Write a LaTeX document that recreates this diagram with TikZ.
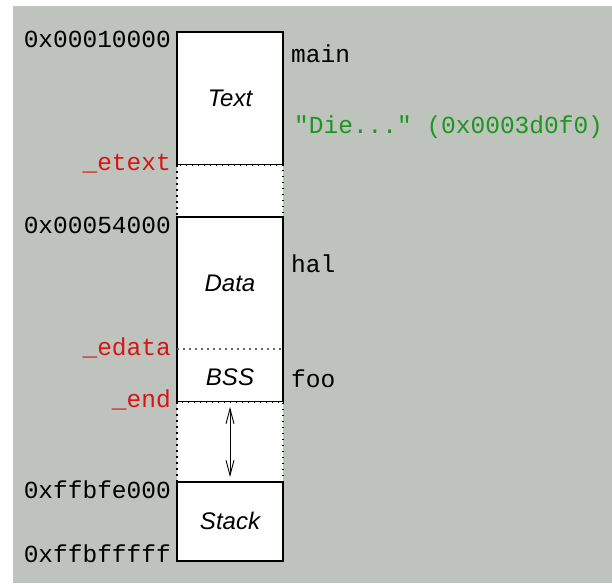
\documentclass[tikz,border=0pt]{standalone}
\usepackage{fontspec}
\newfontfamily\monofont{Liberation Mono}
\newfontfamily\segfont{Liberation Sans}
\usetikzlibrary{arrows.meta}
\definecolor{bggray}{RGB}{190,195,189}
\definecolor{symred}{RGB}{214,22,22}
\definecolor{strgreen}{RGB}{30,150,30}
\tikzset{
  addr/.style={anchor=base east, inner sep=0pt, font=\monofont\fontsize{24.5}{28}\selectfont},
  sym/.style={addr, text=symred},
  ref/.style={anchor=base west, inner sep=0pt, font=\monofont\fontsize{24.5}{28}\selectfont},
  seg/.style={font=\segfont\itshape\fontsize{24}{28}\selectfont},
  gap/.style={fill=white, line width=1.2pt, dash pattern=on 1.5pt off 4.5pt}
}
\begin{document}
\begin{tikzpicture}[x=1pt,y=-1pt]
			%%%%% START %%%%%
			\useasboundingbox (0, 0) rectangle (612, 583);
			\fill[bggray] (13, 6) rectangle (612, 583);
			
			% segments
			\draw[fill=white, line width=1.2pt] (177, 32) rectangle (283, 165);
			\draw[gap] (177, 165) rectangle (283, 217);
			\draw[fill=white, line width=1.2pt] (177, 217) rectangle (283, 402);
			\draw[gap] (177, 402) rectangle (283, 482);
			\draw[fill=white, line width=1.2pt] (177, 482) rectangle (283, 561);
			\draw[black!60, line width=1.2pt, dash pattern=on 1.5pt off 4.5pt] (177, 349) -- (283, 349);
			
			\node[seg] (text) at (230, 98) {Text};
			\node[seg] (data) at (230, 283) {Data};
			\node[seg] (bss) at (230, 377) {BSS};
			\node[seg] (stack) at (230, 521) {Stack};
			
			% growing stack
			\coordinate (top) at (230, 407);
			\coordinate (bot) at (230, 477);
			\draw[{Straight Barb[length=15pt,width=8pt]}-{Straight Barb[length=15pt,width=8pt]}, line width=0.9pt] (top) -- (bot);
			
			% addresses
			\node[addr] (a1) at (171, 48) {0x00010000};
			\node[sym] (etext) at (171, 170) {\_etext};
			\node[addr] (a2) at (171, 233) {0x00054000};
			\node[sym] (edata) at (171, 355) {\_edata};
			\node[sym] (end) at (171, 407) {\_end};
			\node[addr] (a3) at (171, 498) {0xffbfe000};
			\node[addr] (a4) at (171, 562) {0xffbfffff};
			
			% symbols
			\node[ref] (main) at (291, 63) {main};
			\node[ref, text=strgreen] (str) at (294, 133) {"Die..." (0x0003d0f0)};
			\node[ref] (hal) at (291, 272) {hal};
			\node[ref] (foo) at (291, 387) {foo};
			%%%%% END %%%%%
		\end{tikzpicture}
\end{document}
